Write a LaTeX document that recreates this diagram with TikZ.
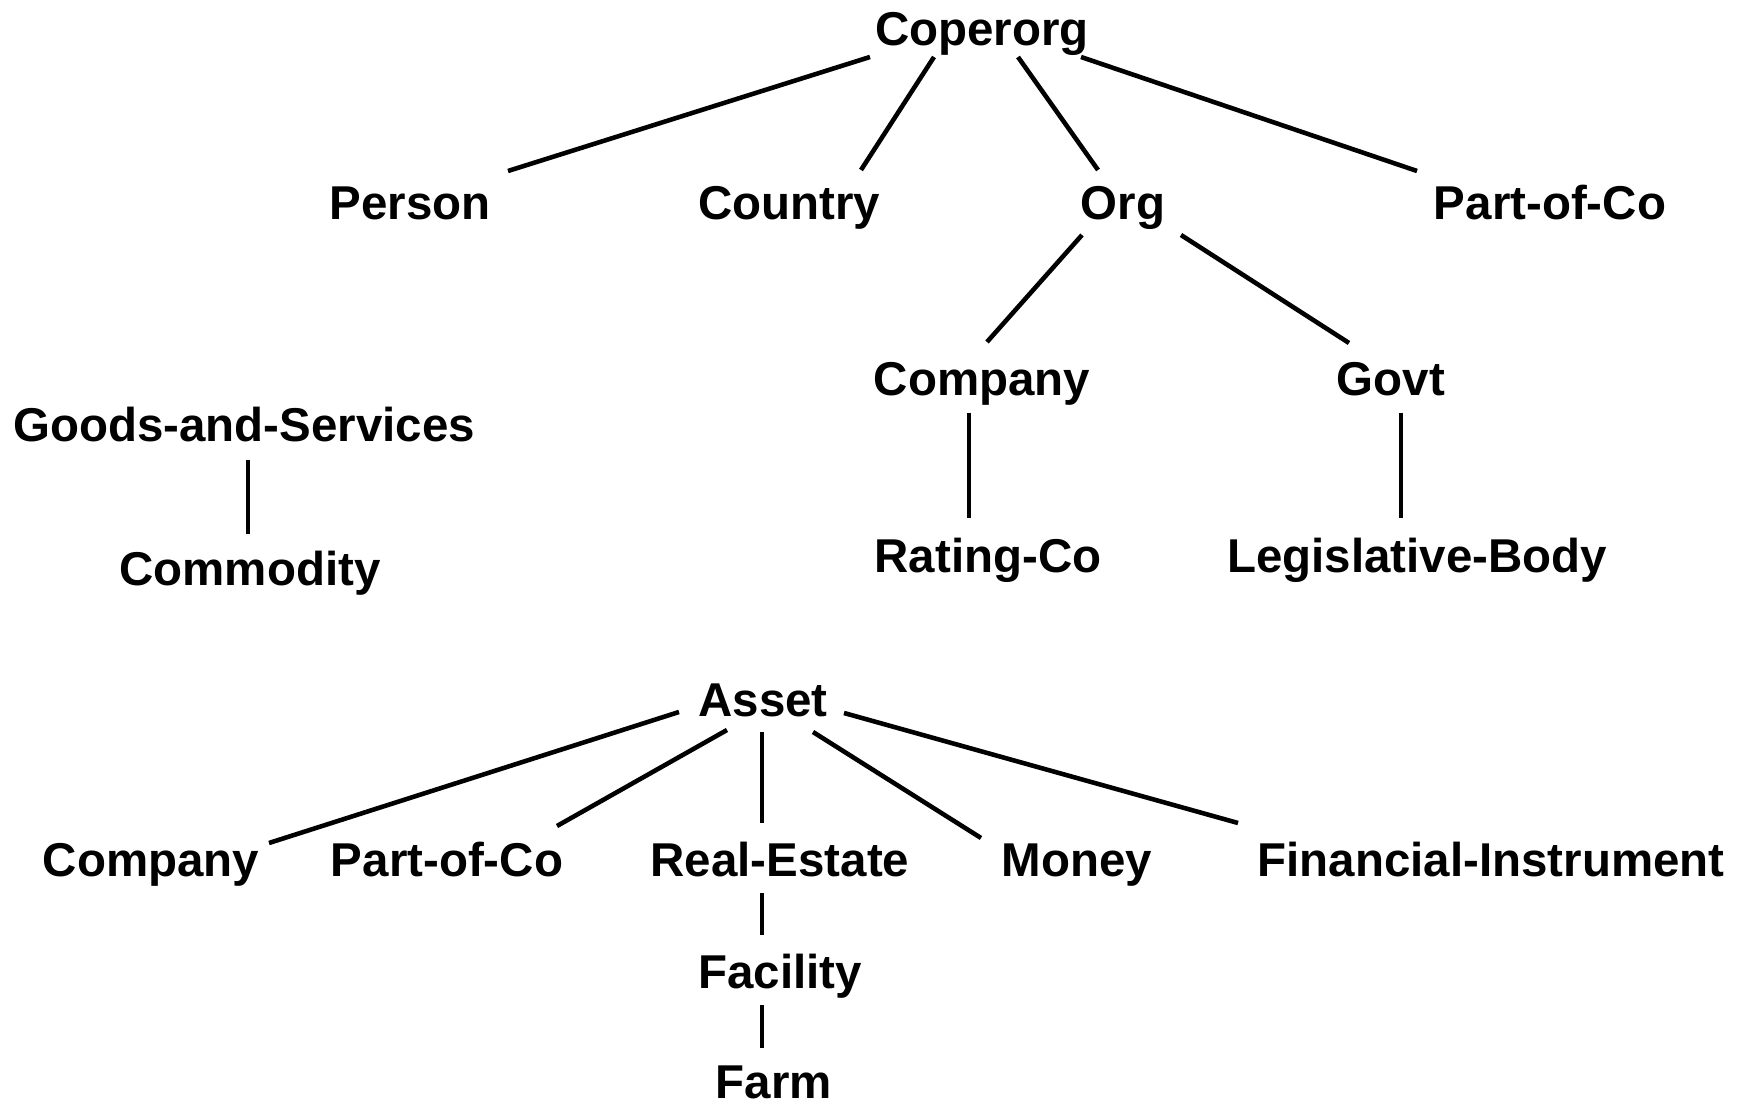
\documentclass[tikz,border=0pt]{standalone}
\usepackage{fontspec}
\setmainfont{Liberation Sans}
\begin{document}
\begin{tikzpicture}[x=0.01cm,y=-0.01cm,
  term/.style={anchor=base,inner sep=0pt,font=\fontsize{13.5}{16}\selectfont\bfseries},
  link/.style={line width=1.3pt}]
\useasboundingbox (0,0) rectangle (1751,1101);

% upper hierarchy
\node[term] (coperorg) at (982,46) {Coperorg};
\node[term] (person)   at (410,220) {Person};
\node[term] (country)  at (789,220) {Country};
\node[term] (org)      at (1123,220) {Org};
\node[term] (partco)   at (1550,220) {Part-of-Co};
\node[term] (company)  at (982,396) {Company};
\node[term] (govt)     at (1391,396) {Govt};
\node[term] (rating)   at (988,573) {Rating-Co};
\node[term] (legis)    at (1417,573) {Legislative-Body};

% goods
\node[term] (goods)     at (244,442) {Goods-and-Services};
\node[term] (commodity) at (250,586) {Commodity};

% assets
\node[term] (asset)      at (763,717) {Asset};
\node[term] (acompany)   at (151,877) {Company};
\node[term] (apartco)    at (447,877) {Part-of-Co};
\node[term] (realestate) at (780,877) {Real-Estate};
\node[term] (money)      at (1077,877) {Money};
\node[term] (fin)        at (1491,877) {Financial-Instrument};
\node[term] (facility)   at (780,989) {Facility};
\node[term] (farm)       at (774,1099) {Farm};

% connectors
\draw[link] ([shift={(-112,11)}]coperorg.base) -- ([shift={(98,-49)}]person.base);
\draw[link] ([shift={(-48,11)}]coperorg.base) -- ([shift={(72,-50)}]country.base);
\draw[link] ([shift={(36,11)}]coperorg.base) -- ([shift={(-25,-50)}]org.base);
\draw[link] ([shift={(99,11)}]coperorg.base) -- ([shift={(-133,-49)}]partco.base);
\draw[link] ([shift={(-41,15)}]org.base) -- ([shift={(5,-54)}]company.base);
\draw[link] ([shift={(58,15)}]org.base) -- ([shift={(-42,-53)}]govt.base);
\draw[link] ([shift={(-13,17)}]company.base) -- ([shift={(-19,-55)}]rating.base);
\draw[link] ([shift={(10,17)}]govt.base) -- ([shift={(-16,-55)}]legis.base);
\draw[link] ([shift={(4,18)}]goods.base) -- ([shift={(-2,-52)}]commodity.base);
\draw[link] ([shift={(-84,-5)}]asset.base) -- ([shift={(118,-34)}]acompany.base);
\draw[link] ([shift={(-36,13)}]asset.base) -- ([shift={(110,-51)}]apartco.base);
\draw[link] ([shift={(-1,15)}]asset.base) -- ([shift={(-18,-54)}]realestate.base);
\draw[link] ([shift={(50,15)}]asset.base) -- ([shift={(-96,-39)}]money.base);
\draw[link] ([shift={(81,-4)}]asset.base) -- ([shift={(-253,-54)}]fin.base);
\draw[link] ([shift={(-18,16)}]realestate.base) -- ([shift={(-18,-54)}]facility.base);
\draw[link] ([shift={(-18,16)}]facility.base) -- ([shift={(-12,-51)}]farm.base);
\end{tikzpicture}
\end{document}
